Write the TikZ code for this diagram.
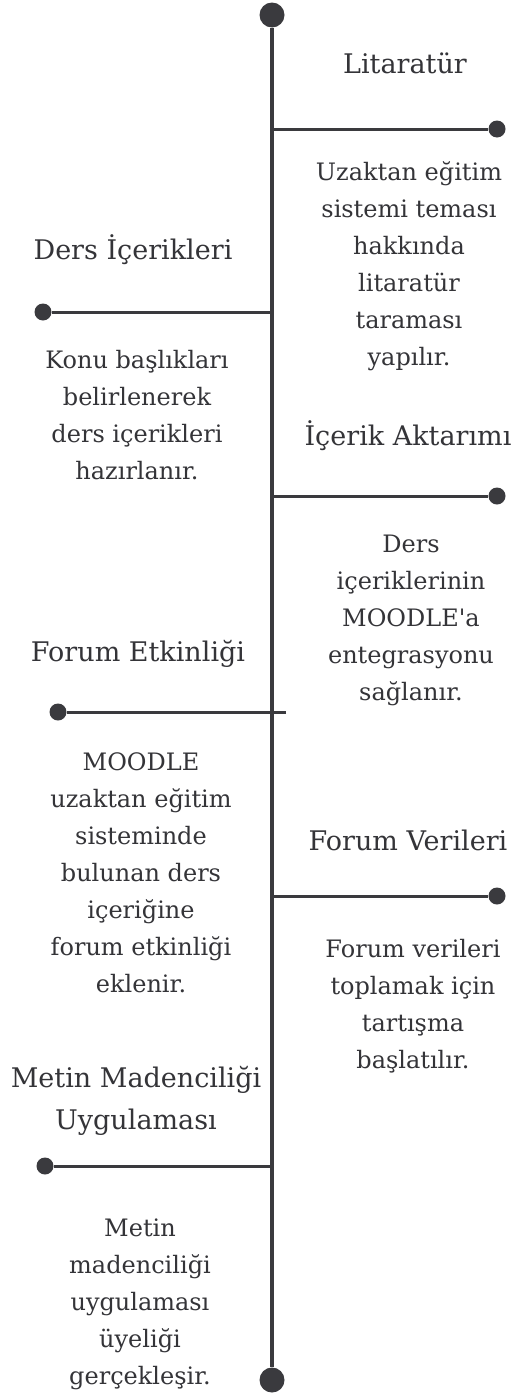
\documentclass[tikz,border=0pt]{standalone}
\usepackage{fontspec}
\setmainfont{DejaVu Serif}
\usepackage{xcolor}
\usetikzlibrary{positioning}
\definecolor{tlgray}{RGB}{58,58,62}
\definecolor{tltext}{RGB}{52,52,56}

\begin{document}
\begin{tikzpicture}[x=1pt,y=-1pt,
  spine/.style={draw=tlgray,line width=4pt},
  branch/.style={draw=tlgray,line width=3pt},
  bigdot/.style={circle,fill=tlgray,inner sep=0pt,minimum size=25pt},
  enddot/.style={circle,fill=tlgray,inner sep=0pt,minimum size=17pt},
  ttl/.style={font=\fontsize{27}{42}\selectfont,text=tltext,align=center,inner sep=0pt},
  desc/.style={font=\fontsize{24}{37}\selectfont,text=tltext,align=center,inner sep=0pt},
]
\path[fill=white] (0,0) rectangle (515,1400);
\useasboundingbox (0,0) rectangle (515,1400);

%% Spine with its two end dots
\node[bigdot] (top) at (272,15) {};
\node[bigdot] (bottom) at (272,1380) {};
\draw[spine] (top) -- (bottom);

%% Branches: joint on the spine, dot at the free end
\coordinate (j1) at (272,129);  \node[enddot] (e1) at (497,129) {};
\coordinate (j2) at (272,312);  \node[enddot] (e2) at (43,312) {};
\coordinate (j3) at (272,496);  \node[enddot] (e3) at (497,496) {};
\coordinate (j4) at (286,712);  \node[enddot] (e4) at (58,712) {};
\coordinate (j5) at (272,896);  \node[enddot] (e5) at (497,896) {};
\coordinate (j6) at (272,1166); \node[enddot] (e6) at (45,1166) {};
\foreach \i in {1,...,6}{
  \draw[branch] (j\i) -- (e\i);
}

%% Step titles
\node[ttl] (t1) at (405,63) {Litaratür};
\node[ttl] (t2) at (133,250) {Ders İçerikleri};
\node[ttl] (t3) at (408,436) {İçerik Aktarımı};
\node[ttl] (t4) at (138,654) {Forum Etkinliği};
\node[ttl] (t5) at (408,840) {Forum Verileri};
\node[ttl] (t6) at (136,1101) {Metin Madenciliği\\Uygulaması};

%% Step descriptions
\node[desc] (d1) at (409,266) {Uzaktan eğitim\\sistemi teması\\hakkında\\litaratür\\taraması\\yapılır.};
\node[desc] (d2) at (137,415) {Konu başlıkları\\belirlenerek\\ders içerikleri\\hazırlanır.};
\node[desc] (d3) at (411,620) {Ders\\içeriklerinin\\MOODLE\textquotesingle a\\entegrasyonu\\sağlanır.};
\node[desc] (d4) at (141,873) {MOODLE\\uzaktan eğitim\\sisteminde\\bulunan ders\\içeriğine\\forum etkinliği\\eklenir.};
\node[desc] (d5) at (413,1006) {Forum verileri\\toplamak için\\tartışma\\başlatılır.};
\node[desc] (d6) at (140,1304) {Metin\\madenciliği\\uygulaması\\üyeliği\\gerçekleşir.};

\end{tikzpicture}
\end{document}
